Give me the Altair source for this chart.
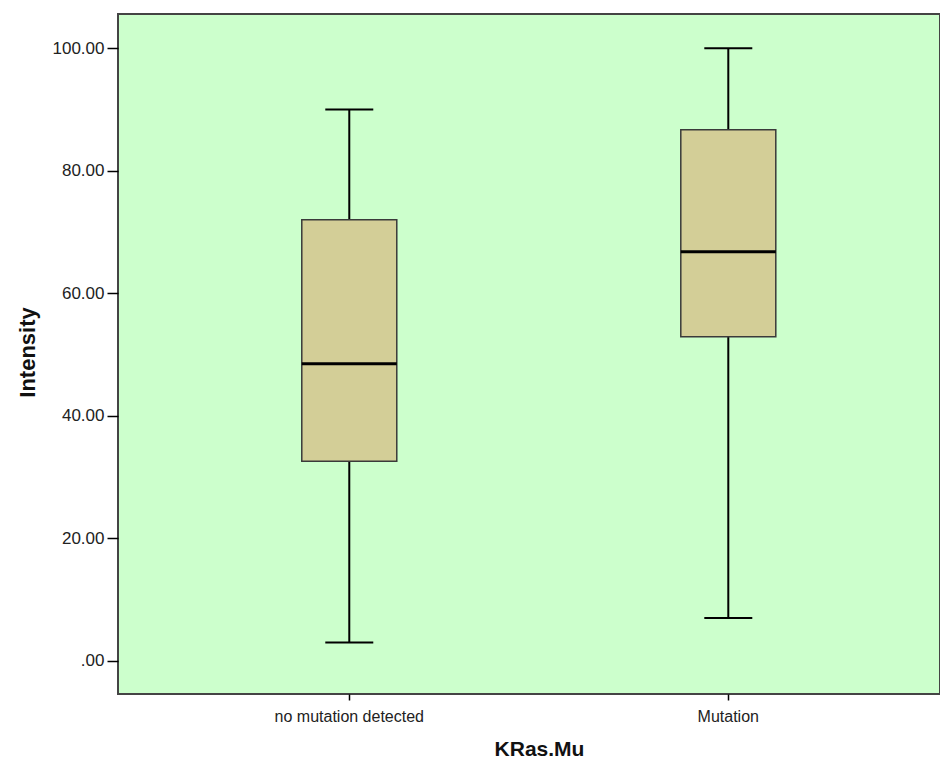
import altair as alt
import pandas as pd

categories = ["no mutation detected", "Mutation"]
mins = [3.0, 7.0]
q1s = [32.6, 52.9]
medians = [48.5, 66.8]
q3s = [72.0, 86.7]
maxs = [90.0, 100.0]

df = pd.DataFrame({
    "cat": categories,
    "min": mins,
    "q1": q1s,
    "median": medians,
    "q3": q3s,
    "max": maxs,
})

FONT = "Liberation Sans"

xscale = alt.Scale(domain=categories, paddingInner=0, paddingOuter=0.0844, align=0.653)
yscale = alt.Scale(domain=[-5.4, 105.6], nice=False, zero=False)

xenc = alt.X("cat:N", scale=xscale, sort=categories,
             axis=alt.Axis(title="KRas.Mu", labelAngle=0, tickSize=6, tickColor="#000",
                           tickWidth=1.5, domain=False, labelFont=FONT, labelFontSize=16,
                           labelColor="#222", labelPadding=8, titleFont=FONT,
                           titleFontSize=21, titleFontWeight="bold", titleColor="#111",
                           titleX=421, titleY=61, titleBaseline="alphabetic"))

yaxis = alt.Axis(title="Intensity", values=[0, 20, 40, 60, 80, 100],
                 labelExpr="datum.value == 0 ? '.00' : format(datum.value, '.2f')",
                 tickSize=11, tickColor="#000", tickWidth=1.5, domain=False, grid=False,
                 labelFont=FONT, labelFontSize=17, labelColor="#222", labelPadding=3,
                 titleFont=FONT, titleFontSize=22, titleFontWeight="bold", titleColor="#111",
                 titleX=-84, titleY=338, titleAngle=-90, titleBaseline="alphabetic")

base = alt.Chart(df)

whisker = base.mark_rule(color="#000", strokeWidth=2).encode(
    x=xenc,
    y=alt.Y("min:Q", scale=yscale, axis=yaxis),
    y2="max:Q",
)

caps_low = base.mark_tick(color="#000", size=48, thickness=2, opacity=1).encode(
    x=alt.X("cat:N", scale=xscale, sort=categories),
    y=alt.Y("min:Q", scale=yscale),
)
caps_high = base.mark_tick(color="#000", size=48, thickness=2, opacity=1).encode(
    x=alt.X("cat:N", scale=xscale, sort=categories),
    y=alt.Y("max:Q", scale=yscale),
)

box = base.mark_bar(size=95, fill="#D3CE97", stroke="#3a3a3a", strokeWidth=1.5, opacity=1).encode(
    x=alt.X("cat:N", scale=xscale, sort=categories),
    y=alt.Y("q1:Q", scale=yscale),
    y2="q3:Q",
)

median = base.mark_tick(color="#000", size=95, thickness=3, opacity=1).encode(
    x=alt.X("cat:N", scale=xscale, sort=categories),
    y=alt.Y("median:Q", scale=yscale),
)

chart = alt.layer(whisker, box, median, caps_low, caps_high).properties(
    width=822,
    height=680,
    autosize=alt.AutoSizeParams(type="none"),
    padding={"left": 110, "top": 6, "right": 0, "bottom": 66},
    background="#ffffff",
).configure_view(
    fill="#CCFFCC",
    stroke="#444444",
    strokeWidth=2,
)

chart.save("out.html", embed_options={"renderer": "svg", "actions": False})
